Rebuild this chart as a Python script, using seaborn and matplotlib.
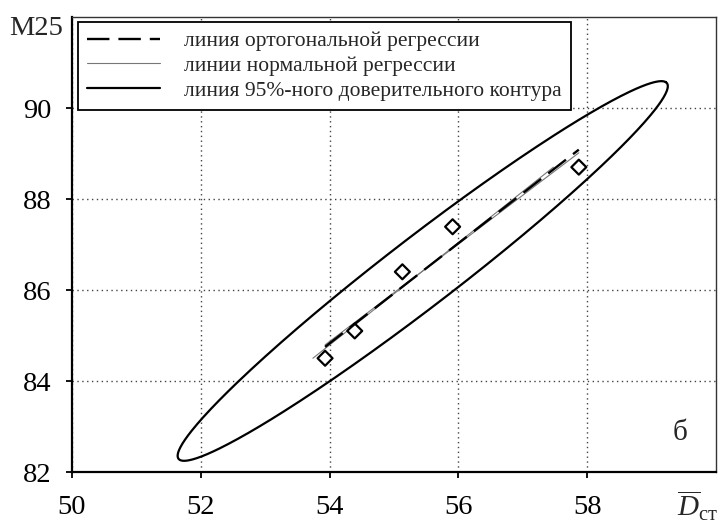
import numpy as np
import pandas as pd
import matplotlib
matplotlib.use("Agg")
import matplotlib.pyplot as plt
from matplotlib.lines import Line2D
import seaborn as sns

# ---- data ----
d_st = [53.93, 54.39, 55.13, 55.91, 57.87]      # mean D_ст
m25 = [84.50, 85.10, 86.40, 87.39, 88.70]       # M25
x_ticks = [50, 52, 54, 56, 58]
y_ticks = [82, 84, 86, 88, 90]
legend_labels = ["линия ортогональной регрессии",
                 "линии нормальной регрессии",
                 "линия 95%-ного доверительного контура"]
ellipse_semi_axes = [5.61, 0.646]   # data units along / across the major direction
ellipse_angle_deg = 47.7

sns.set_theme(style="white")
plt.rcParams["font.family"] = ["Liberation Serif", "DejaVu Serif"]
plt.rcParams["mathtext.fontset"] = "custom"
plt.rcParams["mathtext.rm"] = "Liberation Serif"
plt.rcParams["mathtext.it"] = "Liberation Serif:italic"

df = pd.DataFrame({"x": d_st, "y": m25})
x = np.asarray(d_st)
y = np.asarray(m25)
xm, ym = x.mean(), y.mean()
sxx = ((x - xm) ** 2).sum()
syy = ((y - ym) ** 2).sum()
sxy = ((x - xm) * (y - ym)).sum()

# regressions
b_yx = sxy / sxx                       # y on x
b_xy = syy / sxy                       # x on y (as dy/dx)
b_orth = (syy - sxx + np.sqrt((syy - sxx) ** 2 + 4 * sxy ** 2)) / (2 * sxy)

xr = np.array([x.min(), x.max()])
yr = np.array([y.min(), y.max()])
orth_df = pd.DataFrame({"x": xr, "y": ym + b_orth * (xr - xm)})
yx_df = pd.DataFrame({"x": xr, "y": ym + b_yx * (xr - xm)})
xy_df = pd.DataFrame({"x": xm + (yr - ym) / b_xy, "y": yr})

# confidence ellipse
t = np.linspace(0, 2 * np.pi, 400)
th = np.deg2rad(ellipse_angle_deg)
a, b = ellipse_semi_axes
ell_df = pd.DataFrame({
    "x": xm + a * np.cos(t) * np.cos(th) - b * np.sin(t) * np.sin(th),
    "y": ym + a * np.cos(t) * np.sin(th) + b * np.sin(t) * np.cos(th),
})

fig = plt.figure(figsize=(7.18, 5.24), dpi=100)
ax = fig.add_axes([72 / 718, 52 / 524, 644 / 718, 455 / 524])

dash = (0, (9.5, 3.8))
sns.lineplot(data=ell_df, x="x", y="y", sort=False, estimator=None,
             color="black", linewidth=1.6, ax=ax)
sns.lineplot(data=yx_df, x="x", y="y", sort=False, estimator=None,
             color="#777777", linewidth=0.8, ax=ax)
sns.lineplot(data=xy_df, x="x", y="y", sort=False, estimator=None,
             color="#777777", linewidth=0.8, ax=ax)
sns.lineplot(data=orth_df, x="x", y="y", sort=False, estimator=None,
             color="black", linewidth=1.7, linestyle=dash, ax=ax)
sns.scatterplot(data=df, x="x", y="y", marker="D", s=58,
                facecolor="none", edgecolor="black", linewidth=1.6, ax=ax, zorder=5)

ax.set_xlim(50, 60)
ax.set_ylim(82, 92)
ax.set_xticks(x_ticks)
ax.set_yticks(y_ticks)
ax.set_xticklabels([str(v) for v in x_ticks])
ax.set_yticklabels([str(v) for v in y_ticks])
ax.set_xlabel("")
ax.set_ylabel("")
ax.tick_params(axis="both", direction="out", length=4.5, width=1.3,
               colors="black", labelsize=20.5, bottom=True, left=True)
ax.tick_params(axis="x", pad=12)
ax.tick_params(axis="y", pad=10)

ax.grid(True, linestyle=(0, (1, 2.5)), color="#444444", linewidth=1.0)
for side in ["left", "bottom"]:
    ax.spines[side].set_linewidth(1.6)
    ax.spines[side].set_color("black")
for side in ["top", "right"]:
    ax.spines[side].set_linewidth(1.0)
    ax.spines[side].set_color("#333333")

handles = [
    Line2D([], [], color="black", linewidth=1.7, linestyle=dash),
    Line2D([], [], color="#777777", linewidth=0.8),
    Line2D([], [], color="black", linewidth=1.6),
]
leg = ax.legend(handles, legend_labels, loc="upper left",
                bbox_to_anchor=(0.0093, 0.989), borderaxespad=0,
                fontsize=15.5, handlelength=3.4, handletextpad=1.1,
                borderpad=0.42, labelspacing=0.22, frameon=True,
                fancybox=False, framealpha=1, edgecolor="black")
leg.get_frame().set_linewidth(1.3)

fig.text(63 / 718, (524 - 35) / 524, "M25", ha="right", va="baseline",
         fontsize=20.5)
ax.text(0.944, 0.0857, "б", transform=ax.transAxes, ha="center",
        va="center", fontsize=21)
fig.text(677 / 718, (524 - 517) / 524, r"$\overline{D}_{\mathrm{ст}}$",
         ha="left", va="baseline", fontsize=21)

fig.savefig("out.png", dpi=100)
